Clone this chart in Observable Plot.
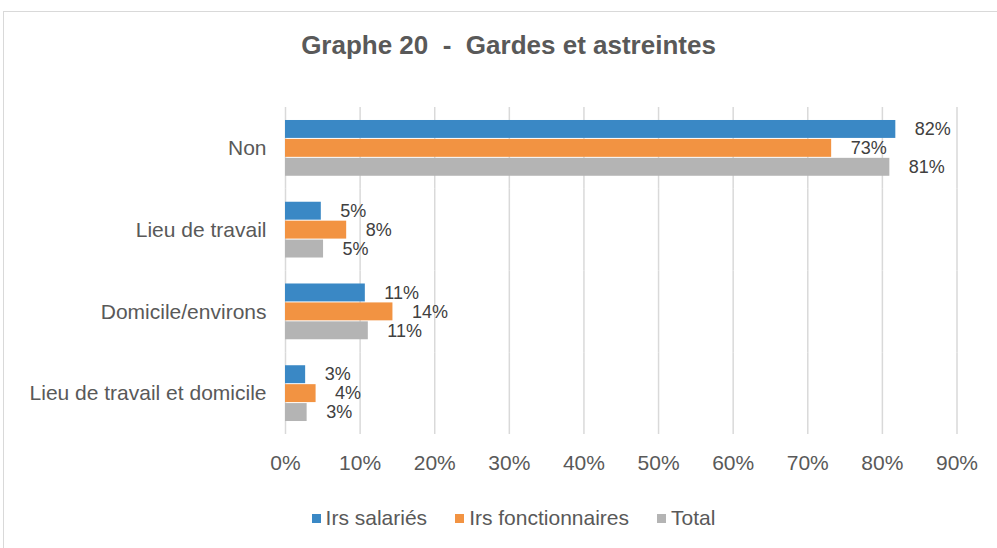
<!DOCTYPE html>
<html>
<head>
<meta charset="utf-8">
<script src="https://cdn.jsdelivr.net/npm/d3@7"></script>
<script src="https://cdn.jsdelivr.net/npm/@observablehq/plot@0.6"></script>
<style>
  html, body { margin:0; padding:0; width:997px; height:548px; overflow:hidden; background:#fff; font-family:"Liberation Sans", Arial, sans-serif; }
  #frame { position:absolute; left:3px; top:11px; width:1010px; height:560px; border:1px solid #d9d9d9; box-sizing:border-box; }
  #title { position:absolute; left:0; width:1017px; top:29px; text-align:center; font-weight:bold; font-size:26px; line-height:32px; color:#595959; }
  #chart { position:absolute; left:0; top:88px; }
  #legend { position:absolute; left:0; width:1027px; top:505px; display:flex; justify-content:center; align-items:center; font-size:21px; line-height:26px; color:#595959; }
  #legend span.item { display:inline-flex; align-items:center; margin:0 14px; }
  #legend span.sw { display:inline-block; width:9px; height:9px; margin-right:5px; }
</style>
</head>
<body>
<div id="frame"></div>
<div id="title">Graphe 20&nbsp; - &nbsp;Gardes et astreintes</div>
<div id="chart"></div>
<div id="legend"></div>
<script>
const categories = ["Non", "Lieu de travail", "Domicile/environs", "Lieu de travail et domicile"];
const series = ["Irs salariés", "Irs fonctionnaires", "Total"];
const salaries = [81.8, 4.8, 10.7, 2.7];
const fonctionnaires = [73.2, 8.2, 14.4, 4.1];
const total = [81.0, 5.1, 11.1, 2.9];
const colors = ["#3a88c5", "#f29342", "#b4b4b4"];
const xTicks = [0, 10, 20, 30, 40, 50, 60, 70, 80, 90];

const seriesValues = [salaries, fonctionnaires, total];
const data = categories.flatMap((c, i) => series.map((s, j) => ({category: c, series: s, value: seriesValues[j][i]})));

const chart = Plot.plot({
  width: 997,
  height: 400,
  marginLeft: 285,
  marginRight: 40.5,
  marginTop: 19,
  marginBottom: 54,
  style: {fontFamily: "'Liberation Sans', Arial, sans-serif", fontSize: "21px", color: "#595959", background: "transparent"},
  x: {domain: [0, 90]},
  fy: {domain: categories, padding: 0, round: false, label: null, axis: null},
  y: {domain: series, paddingInner: 0, paddingOuter: 0.66, round: false, axis: null},
  color: {domain: series, range: colors},
  marks: [
    Plot.gridX(xTicks, {stroke: "#d9d9d9", strokeOpacity: 1, strokeWidth: 1.5}),
    Plot.barX(data, {x: "value", y: "series", fy: "category", fill: "series", insetTop: 0.5, insetBottom: 0.5}),
    Plot.text(data, {x: "value", y: "series", fy: "category", text: d => Math.round(d.value) + "%", textAnchor: "start", dx: 19, fill: "#404040", fontSize: 18}),
    Plot.axisX(xTicks, {tickSize: 0, tickPadding: 21, label: null, tickFormat: d => d + "%", fontSize: 21}),
    Plot.axisFy({anchor: "left", tickSize: 0, tickPadding: 19, label: null, fontSize: 21})
  ]
});
document.getElementById("chart").appendChild(chart);

const legend = document.getElementById("legend");
series.forEach((s, i) => {
  const item = document.createElement("span");
  item.className = "item";
  const sw = document.createElement("span");
  sw.className = "sw";
  sw.style.background = colors[i];
  item.appendChild(sw);
  item.appendChild(document.createTextNode(s));
  legend.appendChild(item);
});
</script>
</body>
</html>
